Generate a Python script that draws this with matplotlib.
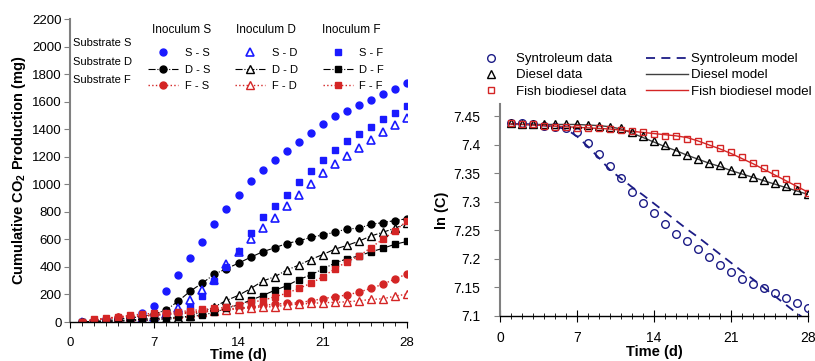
import matplotlib
matplotlib.use("Agg")
import matplotlib.pyplot as plt
from matplotlib.ticker import MultipleLocator, FixedLocator

plt.rcParams['font.family'] = ['Liberation Sans', 'DejaVu Sans']
plt.rcParams['mathtext.fontset'] = 'custom'
plt.rcParams['mathtext.rm'] = 'Liberation Sans'
plt.rcParams['mathtext.bf'] = 'Liberation Sans:bold'

# ---- left panel: cumulative CO2 (mg), days 1..28
days = list(range(1, 29))
ss = [0, 10, 20, 30, 40, 63, 116, 222, 340, 466, 582, 714, 819, 920, 1022, 1105, 1176, 1244,
      1309, 1374, 1440, 1493, 1534, 1575, 1616, 1657, 1696, 1737]
sd = [0, 3, 6, 10, 15, 25, 40, 60, 100, 160, 232, 305, 420, 505, 600, 683, 756, 840,
      925, 1005, 1080, 1150, 1208, 1261, 1321, 1379, 1432, 1483]
sf = [0, 3, 6, 10, 15, 20, 30, 45, 75, 110, 192, 295, 400, 514, 643, 763, 840, 920,
      1019, 1099, 1176, 1249, 1312, 1367, 1420, 1471, 1519, 1570]
ds = [0, 5, 10, 20, 30, 40, 58, 88, 152, 225, 283, 348, 387, 428, 470, 510, 539, 570,
      590, 614, 633, 652, 676, 681, 710, 722, 737, 750]
dd = [0, 2, 4, 6, 8, 12, 15, 20, 28, 45, 75, 110, 157, 194, 242, 297, 329, 377,
      413, 454, 490, 529, 556, 587, 625, 652, 681, 718]
df = [0, 3, 6, 10, 15, 20, 25, 30, 35, 40, 50, 70, 100, 125, 158, 192, 230, 263,
      308, 342, 385, 428, 459, 480, 510, 535, 565, 585]
fs = [3, 15, 25, 35, 40, 45, 50, 58, 64, 70, 80, 88, 95, 100, 110, 120, 130, 135,
      140, 154, 169, 184, 196, 217, 244, 275, 312, 350]
fd = [3, 15, 25, 33, 38, 43, 48, 55, 60, 65, 72, 80, 88, 96, 104, 110, 111, 123,
      130, 135, 140, 143, 147, 154, 164, 169, 188, 203]
ff = [2, 19, 27, 39, 48, 58, 63, 68, 75, 82, 92, 99, 106, 125, 147, 155, 184, 208,
      244, 280, 329, 386, 437, 478, 541, 601, 662, 735]
left_labels = ['S - S', 'D - S', 'F - S', 'S - D', 'D - D', 'F - D', 'S - F', 'D - F', 'F - F']

# ---- right panel: ln(C)
t_right = list(range(1, 29))
syn_data = [7.438, 7.438, 7.437, 7.434, 7.432, 7.430, 7.4225, 7.404, 7.384, 7.363, 7.342, 7.318,
            7.298, 7.280, 7.261, 7.244, 7.231, 7.217, 7.203, 7.189, 7.177, 7.165, 7.156, 7.148,
            7.139, 7.131, 7.122, 7.113]
syn_model = [7.437, 7.437, 7.436, 7.434, 7.432, 7.428, 7.415, 7.397, 7.377, 7.356, 7.341, 7.326,
             7.312, 7.297, 7.282, 7.267, 7.252, 7.238, 7.223, 7.208, 7.193, 7.178, 7.164, 7.149,
             7.134, 7.119, 7.104, 7.090]
die_data = [7.438, 7.437, 7.437, 7.436, 7.436, 7.436, 7.436, 7.435, 7.434, 7.432, 7.430, 7.422,
            7.415, 7.407, 7.400, 7.390, 7.383, 7.376, 7.368, 7.364, 7.356, 7.350, 7.344, 7.339,
            7.333, 7.328, 7.321, 7.3135]
die_model = [7.436, 7.436, 7.436, 7.436, 7.436, 7.436, 7.436, 7.435, 7.434, 7.432, 7.428, 7.421,
             7.413, 7.405, 7.397, 7.390, 7.382, 7.375, 7.368, 7.362, 7.355, 7.349, 7.343, 7.337,
             7.331, 7.325, 7.319, 7.313]
fish_data = [7.438, 7.437, 7.437, 7.434, 7.432, 7.431, 7.4305, 7.4296, 7.4296, 7.428, 7.4266, 7.425,
             7.422, 7.419, 7.415, 7.415, 7.411, 7.407, 7.402, 7.395, 7.387, 7.378, 7.368, 7.359,
             7.350, 7.340, 7.328, 7.315]
fish_model = [7.437, 7.436, 7.435, 7.434, 7.433, 7.432, 7.431, 7.430, 7.429, 7.428, 7.426, 7.424,
              7.422, 7.420, 7.418, 7.416, 7.413, 7.407, 7.400, 7.393, 7.385, 7.376, 7.367, 7.357,
              7.347, 7.337, 7.327, 7.317]

blue = '#1a1aff'
red = '#d42525'
navy = '#1c1c86'

fig = plt.figure(figsize=(8.15, 3.61), dpi=100)

# ================= left panel
ax = fig.add_axes([0.0859, 0.108, 0.4135, 0.839])
ms = 5
h = []
h += ax.plot(days, ss, 'o', color=blue, ms=ms, ls='none')
h += ax.plot(days, ds, 'o', color='black', ms=ms, ls='-.', lw=0.8)
h += ax.plot(days, fs, 'o', color=red, ms=ms, ls=':', lw=1.0)
h += ax.plot(days, sd, '^', mfc='white', mec=blue, mew=1.2, ms=ms + 0.5, ls='none')
h += ax.plot(days, dd, '^', mfc='white', mec='black', mew=1.0, ms=ms + 0.5, color='black', ls='-.', lw=0.8)
h += ax.plot(days, fd, '^', mfc='white', mec=red, mew=1.0, ms=ms + 0.5, color=red, ls=':', lw=1.0)
h += ax.plot(days, sf, 's', color=blue, ms=ms, ls='none')
h += ax.plot(days, df, 's', color='black', ms=ms, ls='-.', lw=0.8)
h += ax.plot(days, ff, 's', color=red, ms=ms, ls=':', lw=1.0)

ax.set_xlim(0, 28)
ax.set_ylim(0, 2200)
ax.xaxis.set_major_locator(MultipleLocator(7))
ax.xaxis.set_minor_locator(MultipleLocator(1))
ax.yaxis.set_major_locator(MultipleLocator(200))
ax.spines['top'].set_visible(False)
ax.spines['right'].set_visible(False)
ax.spines['left'].set_color('#808080')
ax.spines['left'].set_linewidth(1.5)
ax.spines['bottom'].set_linewidth(1.0)
ax.tick_params(axis='both', labelsize=9.5, direction='out')
ax.tick_params(axis='x', which='major', length=4, pad=7)
ax.tick_params(axis='x', which='minor', length=3)
ax.tick_params(axis='y', length=4, color='#808080', pad=2)
ax.set_xlabel('Time (d)', fontsize=10.5, fontweight='bold', labelpad=-1)
ax.set_ylabel('Cumulative CO$_\\mathbf{2}$ Production (mg)', fontsize=10.5,
              fontweight='bold', labelpad=3)

leg = ax.legend(h, left_labels, ncol=3, frameon=False, fontsize=8,
                loc='upper left', bbox_to_anchor=(0.1816, 0.866),
                bbox_transform=fig.transFigure, borderpad=0, borderaxespad=0,
                handlelength=2.7, handletextpad=0.6, columnspacing=2.25,
                labelspacing=0.56, numpoints=1)

for x, txt in zip([182, 266, 351], ['Inoculum S', 'Inoculum D', 'Inoculum F']):
    fig.text(x / 815, 1 - 30 / 361, txt, fontsize=8.5, ha='center', va='center')
for y, txt in zip([43, 62, 80], ['Substrate S', 'Substrate D', 'Substrate F']):
    fig.text(73 / 815, 1 - y / 361, txt, fontsize=8, ha='left', va='center')

# ================= right panel
ax2 = fig.add_axes([0.6135, 0.1255, 0.378, 0.5865])
ax2.plot(t_right, syn_model, ls=(0, (5, 3.5)), color=navy, lw=1.3, label='Syntroleum model')
ax2.plot(t_right, die_model, '-', color='#404040', lw=1.0, label='Diesel model')
ax2.plot(t_right, fish_model, '-', color=red, lw=1.0, label='Fish biodiesel model')
ax2.plot(t_right, syn_data, 'o', mfc='none', mec=navy, mew=1.0, ms=5.5, ls='none',
         label='Syntroleum data')
ax2.plot(t_right, die_data, '^', mfc='none', mec='black', mew=1.0, ms=6, ls='none',
         label='Diesel data')
ax2.plot(t_right, fish_data, 's', mfc='none', mec=red, mew=1.0, ms=4, ls='none',
         label='Fish biodiesel data')

ax2.set_xlim(0, 28)
ax2.set_ylim(7.1, 7.472)
ax2.xaxis.set_major_locator(MultipleLocator(7))
ax2.xaxis.set_minor_locator(MultipleLocator(1))
yt = [7.1, 7.15, 7.2, 7.25, 7.3, 7.35, 7.4, 7.45]
ax2.yaxis.set_major_locator(FixedLocator(yt))
ax2.set_yticklabels(['7.1', '7.15', '7.2', '7.25', '7.3', '7.35', '7.4', '7.45'])
ax2.spines['top'].set_visible(False)
ax2.spines['right'].set_visible(False)
ax2.spines['left'].set_color('#808080')
ax2.spines['left'].set_linewidth(1.5)
ax2.spines['bottom'].set_linewidth(1.0)
ax2.tick_params(axis='both', labelsize=10)
ax2.tick_params(axis='x', which='major', direction='inout', length=8, pad=7)
ax2.tick_params(axis='x', which='minor', direction='inout', length=5)
ax2.tick_params(axis='y', direction='out', length=4, color='#808080', pad=10)
ax2.set_xlabel('Time (d)', fontsize=10.5, fontweight='bold', labelpad=0)
ax2.set_ylabel('ln (C)', fontsize=10.5, fontweight='bold', labelpad=3)

hh, ll = ax2.get_legend_handles_labels()
order = [3, 4, 5, 0, 1, 2]
ax2.legend([hh[i] for i in order], [ll[i] for i in order], ncol=2, frameon=False,
           fontsize=9.5, loc='upper left', bbox_to_anchor=(470 / 815, 1 - 53 / 361),
           bbox_transform=fig.transFigure, borderpad=0, borderaxespad=0,
           handlelength=3.2, handletextpad=0.25, columnspacing=1.5,
           labelspacing=0.3, numpoints=1)

fig.savefig('out.png', dpi=100)
